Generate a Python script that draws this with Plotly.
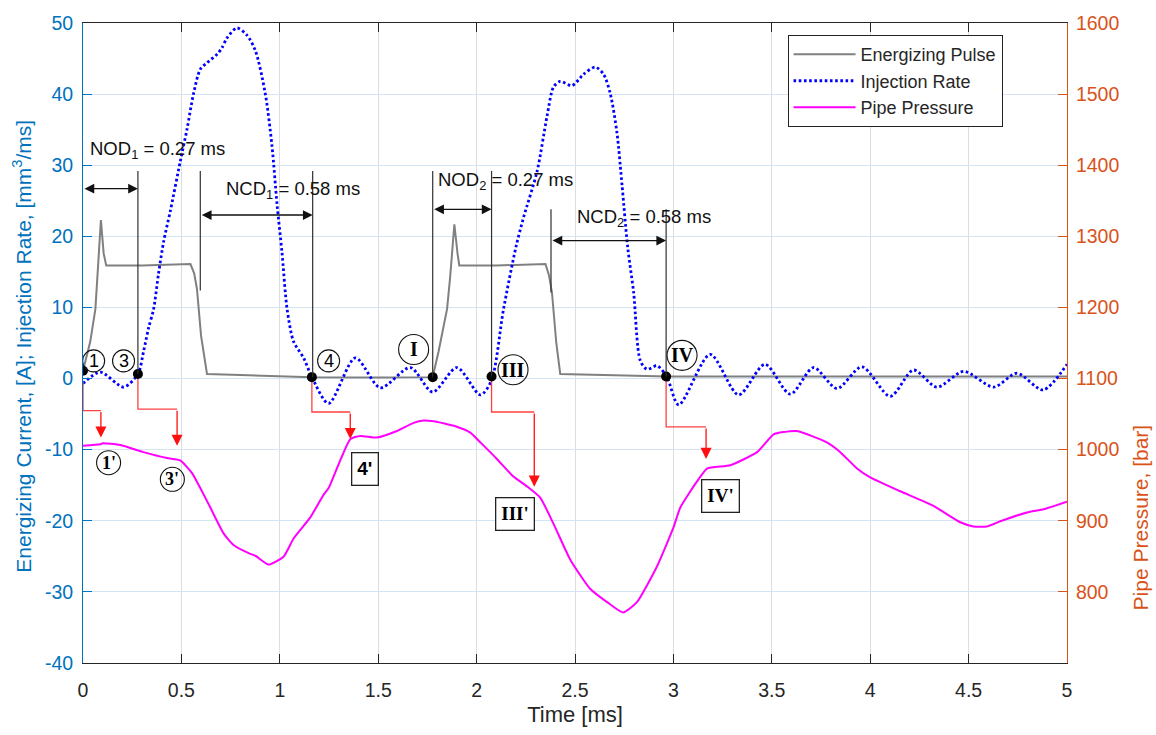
import plotly.graph_objects as go

# ---------------- data ----------------
time_pulse = [0.0, 0.037, 0.063, 0.079, 0.091, 0.105, 0.118, 0.30, 0.546, 0.565, 0.579,
              0.600, 0.63, 0.80, 1.163, 1.50, 1.777, 1.807, 1.85, 1.866, 1.887, 1.903,
              1.912, 2.10, 2.35, 2.368, 2.383, 2.405, 2.425, 2.70, 2.967, 3.5, 4.0, 4.5, 5.0]
pulse_current = [1.1, 5.2, 9.8, 16.7, 22.3, 17.6, 15.9, 15.9, 16.1, 14.8, 12.6,
                 6.0, 0.65, 0.5, 0.2, 0.15, 0.2, 3.85, 9.8, 14.4, 21.7, 17.6,
                 15.9, 15.9, 16.1, 14.5, 12.1, 5.0, 0.65, 0.45, 0.3, 0.3, 0.3, 0.3, 0.3]

time_rate = [0.0, 0.088, 0.206, 0.279, 0.308, 0.333, 0.359, 0.384, 0.41, 0.444, 0.494,
             0.528, 0.562, 0.596, 0.63, 0.681, 0.706, 0.732, 0.782, 0.833, 0.876, 0.926,
             0.96, 0.986, 1.011, 1.037, 1.07, 1.121, 1.163, 1.248, 1.384, 1.511, 1.663,
             1.777, 1.90, 2.019, 2.075, 2.137, 2.20, 2.239, 2.307, 2.358, 2.391, 2.425,
             2.485, 2.544, 2.603, 2.645, 2.679, 2.713, 2.739, 2.768, 2.798, 2.832, 2.866,
             2.917, 2.967, 3.027, 3.187, 3.331, 3.465, 3.594, 3.712, 3.831, 3.958, 4.102,
             4.22, 4.339, 4.475, 4.627, 4.746, 4.878, 5.0]
injection_rate = [-0.7, 0.9, -1.2, 0.65, 3.85, 7.1, 9.8, 14.8, 19.3, 23.6, 30.5,
                  35.0, 40.1, 43.5, 44.4, 45.6, 46.5, 47.9, 49.3, 48.3, 46.1, 40.1,
                  32.8, 24.5, 17.8, 9.8, 5.2, 2.9, 0.2, -3.5, 2.9, -1.3, 1.55,
                  -1.9, 1.55, -2.3, -0.3, 9.8, 18.5, 22.7, 29.1, 36.9, 41.0, 41.8,
                  41.2, 42.8, 43.8, 42.8, 40.1, 34.6, 27.2, 18.4, 12.1, 2.5, 1.3,
                  1.8, 0.2, -3.7, 3.4, -2.3, 2.0, -2.2, 1.55, -1.4, 1.65, -2.5,
                  1.2, -1.2, 1.0, -1.2, 0.75, -1.6, 2.0]

time_pressure = [0.0, 0.088, 0.10, 0.19, 0.307, 0.427, 0.494, 0.554, 0.596, 0.647, 0.715,
                 0.765, 0.85, 0.876, 0.943, 1.02, 1.07, 1.155, 1.223, 1.248, 1.358, 1.409,
                 1.494, 1.595, 1.68, 1.731, 1.782, 1.892, 1.968, 2.019, 2.102, 2.187, 2.256,
                 2.324, 2.391, 2.476, 2.578, 2.663, 2.744, 2.815, 2.917, 3.001, 3.035, 3.12,
                 3.171, 3.289, 3.425, 3.509, 3.56, 3.628, 3.78, 3.848, 3.933, 4.0, 4.153,
                 4.322, 4.458, 4.525, 4.593, 4.661, 4.797, 4.881, 5.0]
pipe_pressure = [1005.6, 1007.5, 1009.0, 1006.5, 996.5, 988.2, 985.0, 967.0, 946.0, 918.6, 881.9,
                 865.9, 853.5, 850.8, 838.4, 849.8, 875.0, 904.8, 936.8, 946.0, 1014.8, 1019.3,
                 1017.1, 1026.2, 1037.7, 1040.9, 1039.9, 1033.0, 1024.0, 1010.2, 987.3, 962.1, 948.4,
                 932.3, 895.6, 845.3, 804.0, 785.6, 771.0, 785.6, 836.1, 891.1, 918.6, 955.3,
                 973.5, 978.1, 996.5, 1021.6, 1024.8, 1026.2, 1010.2, 996.5, 973.5, 961.0, 941.5,
                 920.9, 897.9, 892.0, 892.0, 899.3, 911.7, 916.2, 926.8]

# events on the energizing pulse / injection rate
event_times = [0.0, 0.279, 1.163, 1.777, 2.076, 2.963]
event_values = [1.1, 0.65, 0.2, 0.2, 0.3, 0.3]

# delays
nod_values = [0.27, 0.27]
ncd_values = [0.58, 0.58]

x_ticks = [0, 0.5, 1, 1.5, 2, 2.5, 3, 3.5, 4, 4.5, 5]
x_tick_text = ["0", "0.5", "1", "1.5", "2", "2.5", "3", "3.5", "4", "4.5", "5"]
left_ticks = [-40, -30, -20, -10, 0, 10, 20, 30, 40, 50]
left_tick_text = ["-40", "-30", "-20", "-10", "0", "10", "20", "30", "40", "50"]
right_ticks = [800, 900, 1000, 1100, 1200, 1300, 1400, 1500, 1600]

# ---------------- style ----------------
BLUE_AX = "#0072BD"
ORANGE_AX = "#D95319"
DARK = "#262626"
FONT = "Liberation Sans, Arial, Helvetica, sans-serif"
SERIF = "Liberation Serif, Times New Roman, serif"

fig = go.Figure()

fig.add_trace(go.Scatter(x=time_pulse, y=pulse_current, mode="lines", name="Energizing Pulse",
                         line=dict(color="#808080", width=2), yaxis="y"))
fig.add_trace(go.Scatter(x=time_rate, y=injection_rate, mode="lines", name="Injection Rate",
                         line=dict(color="#0000FF", width=2.8, dash="2.6px,2.6px",
                                   shape="spline", smoothing=0.8), yaxis="y"))
fig.add_trace(go.Scatter(x=time_pressure, y=pipe_pressure, mode="lines", name="Pipe Pressure",
                         line=dict(color="#FF00FF", width=2, shape="spline", smoothing=0.5),
                         yaxis="y2"))

shapes = []
annotations = []

# vertical marker lines (time, top, bottom)
vlines = [(0.279, 29.2, 0.65), (0.596, 29.2, 12.4), (1.167, 29.2, 0.2),
          (1.777, 29.2, 0.2), (2.076, 29.2, 0.3), (2.378, 23.8, 12.1), (2.963, 23.8, 0.3)]
for t, top, bot in vlines:
    shapes.append(dict(type="line", xref="x", yref="y", x0=t, x1=t, y0=bot, y1=top,
                       line=dict(color="#303030", width=1.2), layer="above"))

# double arrows
darrows = [(0.0, 0.279, 26.7), (0.596, 1.167, 23.0), (1.777, 2.076, 23.8), (2.378, 2.963, 19.4)]
for t0, t1, v in darrows:
    annotations.append(dict(x=t1, y=v, ax=t0, ay=v, xref="x", yref="y", axref="x", ayref="y",
                            text="", showarrow=True, arrowhead=2, arrowside="end+start",
                            arrowsize=1.5, arrowwidth=1.3, arrowcolor="#111111", standoff=0,
                            startstandoff=0))

# delay labels
labels = [(0.023, 32.2, "NOD<sub>1</sub> = %.2f ms" % nod_values[0]),
          (0.714, 26.5, "NCD<sub>1</sub> = %.2f ms" % ncd_values[0]),
          (1.794, 27.8, "NOD<sub>2</sub> = %.2f ms" % nod_values[1]),
          (2.498, 22.6, "NCD<sub>2</sub> = %.2f ms" % ncd_values[1])]
for t, v, txt in labels:
    annotations.append(dict(x=t, y=v, xref="x", yref="y", text=txt, showarrow=False,
                            xanchor="left", yanchor="middle",
                            font=dict(family=FONT, size=18.5, color="#111111")))

# red elbow arrows: (start t, start v, elbow v, end t, end v)
red = [(0.0, -0.5, -4.5, 0.091, -8.3), (0.279, 0.65, -4.3, 0.478, -9.45),
       (1.163, 0.2, -4.7, 1.358, -8.5), (2.076, 0.3, -4.7, 2.293, -15.2),
       (2.963, 0.3, -6.8, 3.166, -11.3)]
for t0, v0, ve, t1, v1 in red:
    fig.add_trace(go.Scatter(x=[t0, t0, t1], y=[v0, ve, ve], mode="lines", showlegend=False,
                             hoverinfo="skip", line=dict(color="#FF4040", width=1.3), yaxis="y"))
    annotations.append(dict(x=t1, y=v1, ax=t1, ay=ve, xref="x", yref="y", axref="x", ayref="y",
                            text="", showarrow=True, arrowhead=2, arrowsize=1.7, arrowwidth=1.3,
                            arrowcolor="#FF1010", standoff=0))

# black event dots
fig.add_trace(go.Scatter(x=event_times, y=event_values, mode="markers", showlegend=False,
                         hoverinfo="skip", marker=dict(color="black", size=10), yaxis="y"))

# circled / boxed labels: (t, v, text, radius, kind, font, bold)
marks = [(0.054, 2.48, "1", 11, "circle", FONT, False),
         (0.206, 2.48, "3", 11, "circle", FONT, False),
         (1.248, 2.48, "4", 11, "circle", FONT, False),
         (1.680, 4.09, "I", 15, "circle", SERIF, True),
         (2.185, 1.24, "III", 15, "circle", SERIF, True),
         (3.044, 3.26, "IV", 15, "circle", SERIF, True),
         (0.130, -11.83, "1'", 12, "circle", SERIF, True),
         (0.454, -14.17, "3'", 12, "circle", SERIF, True),
         (1.434, -12.66, "4'", 0, "box", FONT, True),
         (2.197, -19.09, "III'", 0, "box", SERIF, True),
         (3.238, -16.51, "IV'", 0, "box", SERIF, True)]
for t, v, txt, r, kind, fam, bold in marks:
    label = "<b>%s</b>" % txt if bold else txt
    if kind == "circle":
        shapes.append(dict(type="circle", xref="x", yref="y", xsizemode="pixel", ysizemode="pixel",
                           xanchor=t, yanchor=v, x0=-r, x1=r, y0=-r, y1=r,
                           line=dict(color="#111111", width=1.1), fillcolor="rgba(255,255,255,0)",
                           layer="above"))
        annotations.append(dict(x=t, y=v, xref="x", yref="y", text=label, showarrow=False,
                                xanchor="center", yanchor="middle",
                                font=dict(family=fam, size=20 if r > 12 else 18, color="black")))
    else:
        annotations.append(dict(x=t, y=v, xref="x", yref="y", text=label, showarrow=False,
                                xanchor="center", yanchor="middle", bordercolor="#222222",
                                borderwidth=1.3, borderpad=5, bgcolor="white",
                                font=dict(family=fam, size=19, color="black")))

# axis titles as annotations
annotations.append(dict(xref="paper", yref="paper", x=-0.0615, y=0.495, xanchor="center",
                        yanchor="middle", textangle=-90, showarrow=False,
                        text="Energizing Current, [A]; Injection Rate, [mm<sup>3</sup>/ms]",
                        font=dict(family=FONT, size=21, color=BLUE_AX)))
annotations.append(dict(xref="paper", yref="paper", x=1.0745, y=0.228, xanchor="center",
                        yanchor="middle", textangle=-90, showarrow=False,
                        text="Pipe Pressure, [bar]",
                        font=dict(family=FONT, size=21, color=ORANGE_AX)))

fig.update_layout(
    width=1156, height=735,
    margin=dict(l=83, r=89, t=15, b=66),
    plot_bgcolor="white", paper_bgcolor="white",
    font=dict(family=FONT, size=18, color=DARK),
    shapes=shapes, annotations=annotations,
    legend=dict(x=0.716, y=0.981, xanchor="left", yanchor="top", bgcolor="white",
                bordercolor="#222222", borderwidth=1, font=dict(family=FONT, size=18, color=DARK),
                tracegroupgap=0, itemwidth=62, entrywidth=165, entrywidthmode="pixels"),
    xaxis=dict(range=[0, 5], tickvals=x_ticks, ticktext=x_tick_text, ticks="inside", ticklen=9,
               tickcolor=DARK, showline=True, linecolor=DARK, linewidth=1, mirror="ticks",
               showgrid=True, gridcolor="#dcdde2", gridwidth=1, zeroline=False,
               tickfont=dict(size=19.5, color=DARK), ticklabelstandoff=10,
               title=dict(text="Time [ms]", font=dict(size=22, color=DARK), standoff=6)),
    yaxis=dict(range=[-40, 50], tickvals=left_ticks, ticktext=left_tick_text, ticks="inside",
               ticklen=9, tickcolor=BLUE_AX,
               showline=True, linecolor=BLUE_AX, linewidth=1, showgrid=True,
               gridcolor="#d3e4f4", gridwidth=1, zeroline=False,
               tickfont=dict(size=19.5, color=BLUE_AX), ticklabelstandoff=5),
    yaxis2=dict(range=[700, 1600], tickvals=right_ticks, ticks="inside", ticklen=9,
                tickcolor=ORANGE_AX, showline=True, linecolor=ORANGE_AX, linewidth=1,
                overlaying="y", side="right", showgrid=False, zeroline=False,
                tickfont=dict(size=19.5, color=ORANGE_AX), ticklabelstandoff=4),
)

fig.write_html("out.html")
